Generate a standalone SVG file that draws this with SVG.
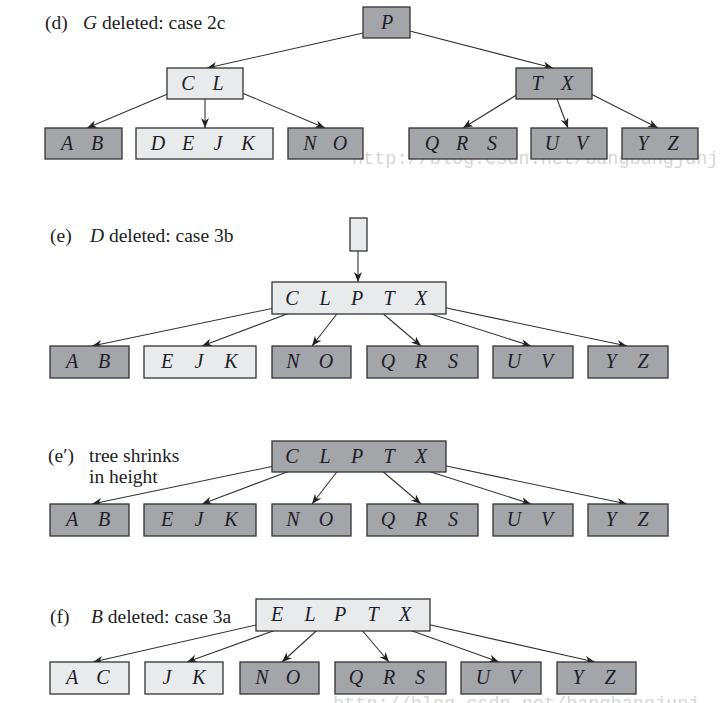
<svg xmlns="http://www.w3.org/2000/svg" width="721" height="703" viewBox="0 0 721 703">
<style>
.dk{fill:#a3a5a8;stroke:#333;stroke-width:1.3}
.lt{fill:#e9eaeb;stroke:#333;stroke-width:1.3}
.k{font-family:"Liberation Serif","Times New Roman","DejaVu Serif",serif;font-style:italic;font-size:20px;fill:#1e1e2a;text-anchor:middle}
.t{font-family:"Liberation Serif","Times New Roman","DejaVu Serif",serif;font-size:19.5px;fill:#222}
.it{font-style:italic}
.e{stroke:#333;stroke-width:1.1;fill:none;marker-end:url(#ah)}
.wm{font-family:"Liberation Mono","DejaVu Sans Mono",monospace;font-size:18.5px;fill:#d6d6d6}
</style>
<defs>
<marker id="ah" markerUnits="userSpaceOnUse" markerWidth="12" markerHeight="10" refX="10" refY="4" orient="auto">
<path d="M0,0 L10,4 L0,8 L3,4 Z" fill="#222"/>
</marker>
</defs>
<text class="wm" x="352" y="164">http://blog.csdn.net/bangbangjunj</text>
<text class="wm" x="333" y="709">http://blog.csdn.net/bangbangjunj</text>
<g id="titles">
<text class="t" x="45" y="29">(d)<tspan x="83" class="it">G</tspan> deleted: case 2c</text>
<text class="t" x="50" y="242">(e)<tspan x="90" class="it">D</tspan> deleted: case 3b</text>
<text class="t" x="48" y="462">(e′)<tspan x="89">tree shrinks</tspan></text>
<text class="t" x="89" y="483">in height</text>
<text class="t" x="50" y="623">(f)<tspan x="91" class="it">B</tspan> deleted: case 3a</text>
</g>
<g id="connectors">
<line class="e" x1="372" y1="31" x2="207" y2="68"/>
<line class="e" x1="402" y1="29" x2="553" y2="68"/>
<line class="e" x1="170" y1="93" x2="87" y2="128"/>
<line class="e" x1="205" y1="91" x2="205" y2="128"/>
<line class="e" x1="235" y1="90" x2="325" y2="128"/>
<line class="e" x1="523" y1="91" x2="463" y2="128"/>
<line class="e" x1="554" y1="91" x2="568" y2="128"/>
<line class="e" x1="585" y1="91" x2="658" y2="128"/>
<line class="e" x1="358" y1="238" x2="358" y2="282"/>
<line class="e" x1="279" y1="307" x2="92" y2="346"/>
<line class="e" x1="311" y1="305" x2="202" y2="346"/>
<line class="e" x1="343" y1="306" x2="312" y2="346"/>
<line class="e" x1="374" y1="306" x2="421" y2="346"/>
<line class="e" x1="406" y1="306" x2="531" y2="346"/>
<line class="e" x1="437" y1="306" x2="627" y2="346"/>
<line class="e" x1="279" y1="465" x2="92" y2="504"/>
<line class="e" x1="311" y1="463" x2="202" y2="504"/>
<line class="e" x1="343" y1="464" x2="312" y2="504"/>
<line class="e" x1="374" y1="464" x2="421" y2="504"/>
<line class="e" x1="406" y1="464" x2="531" y2="504"/>
<line class="e" x1="437" y1="464" x2="627" y2="504"/>
<line class="e" x1="265" y1="623" x2="93" y2="662"/>
<line class="e" x1="295" y1="623" x2="187" y2="662"/>
<line class="e" x1="325" y1="623" x2="282" y2="662"/>
<line class="e" x1="355" y1="622" x2="389" y2="662"/>
<line class="e" x1="390" y1="623" x2="499" y2="662"/>
<line class="e" x1="422" y1="623" x2="595" y2="662"/>
</g>
<g id="d-P"><rect class="dk" x="363" y="7" width="47" height="31"/><text class="k" x="387" y="29">P</text></g>
<g id="d-CL"><rect class="lt" x="167" y="68" width="76" height="31"/><text class="k"><tspan x="188" y="90">C</tspan><tspan x="218" y="90">L</tspan></text></g>
<g id="d-TX"><rect class="dk" x="516" y="68" width="76" height="31"/><text class="k"><tspan x="537" y="90">T</tspan><tspan x="567" y="90">X</tspan></text></g>
<g id="d-AB"><rect class="dk" x="45" y="128" width="77" height="31"/><text class="k"><tspan x="67" y="150">A</tspan><tspan x="97" y="150">B</tspan></text></g>
<g id="d-DEJK"><rect class="lt" x="136" y="128" width="137" height="31"/><text class="k"><tspan x="158" y="150">D</tspan><tspan x="188" y="150">E</tspan><tspan x="218" y="150">J</tspan><tspan x="248" y="150">K</tspan></text></g>
<g id="d-NO"><rect class="dk" x="288" y="128" width="75" height="31"/><text class="k"><tspan x="310" y="150">N</tspan><tspan x="340" y="150">O</tspan></text></g>
<g id="d-QRS"><rect class="dk" x="409" y="128" width="108" height="31"/><text class="k"><tspan x="432" y="150">Q</tspan><tspan x="462" y="150">R</tspan><tspan x="492" y="150">S</tspan></text></g>
<g id="d-UV"><rect class="dk" x="531" y="128" width="76" height="31"/><text class="k"><tspan x="552" y="150">U</tspan><tspan x="582" y="150">V</tspan></text></g>
<g id="d-YZ"><rect class="dk" x="622" y="128" width="76" height="31"/><text class="k"><tspan x="643" y="150">Y</tspan><tspan x="673" y="150">Z</tspan></text></g>
<g id="e-root"><rect class="lt" x="350" y="218" width="17" height="33"/></g>
<g id="e-CLPTX"><rect class="lt" x="272" y="282" width="174" height="32"/><text class="k"><tspan x="292" y="305">C</tspan><tspan x="325" y="305">L</tspan><tspan x="357" y="305">P</tspan><tspan x="389" y="305">T</tspan><tspan x="421" y="305">X</tspan></text></g>
<g id="e-AB"><rect class="dk" x="50" y="346" width="79" height="32"/><text class="k"><tspan x="72" y="368">A</tspan><tspan x="104" y="368">B</tspan></text></g>
<g id="e-EJK"><rect class="lt" x="144" y="346" width="112" height="32"/><text class="k"><tspan x="167" y="368">E</tspan><tspan x="199" y="368">J</tspan><tspan x="231" y="368">K</tspan></text></g>
<g id="e-NO"><rect class="dk" x="272" y="346" width="79" height="32"/><text class="k"><tspan x="293" y="368">N</tspan><tspan x="326" y="368">O</tspan></text></g>
<g id="e-QRS"><rect class="dk" x="367" y="346" width="111" height="32"/><text class="k"><tspan x="388" y="368">Q</tspan><tspan x="421" y="368">R</tspan><tspan x="453" y="368">S</tspan></text></g>
<g id="e-UV"><rect class="dk" x="493" y="346" width="80" height="32"/><text class="k"><tspan x="514" y="368">U</tspan><tspan x="547" y="368">V</tspan></text></g>
<g id="e-YZ"><rect class="dk" x="588" y="346" width="80" height="32"/><text class="k"><tspan x="611" y="368">Y</tspan><tspan x="643" y="368">Z</tspan></text></g>
<g id="e2-CLPTX"><rect class="dk" x="272" y="441" width="174" height="31"/><text class="k"><tspan x="292" y="463">C</tspan><tspan x="325" y="463">L</tspan><tspan x="357" y="463">P</tspan><tspan x="389" y="463">T</tspan><tspan x="421" y="463">X</tspan></text></g>
<g id="e2-AB"><rect class="dk" x="50" y="504" width="79" height="32"/><text class="k"><tspan x="72" y="526">A</tspan><tspan x="104" y="526">B</tspan></text></g>
<g id="e2-EJK"><rect class="dk" x="144" y="504" width="112" height="32"/><text class="k"><tspan x="167" y="526">E</tspan><tspan x="199" y="526">J</tspan><tspan x="231" y="526">K</tspan></text></g>
<g id="e2-NO"><rect class="dk" x="272" y="504" width="79" height="32"/><text class="k"><tspan x="293" y="526">N</tspan><tspan x="326" y="526">O</tspan></text></g>
<g id="e2-QRS"><rect class="dk" x="367" y="504" width="111" height="32"/><text class="k"><tspan x="388" y="526">Q</tspan><tspan x="421" y="526">R</tspan><tspan x="453" y="526">S</tspan></text></g>
<g id="e2-UV"><rect class="dk" x="493" y="504" width="80" height="32"/><text class="k"><tspan x="514" y="526">U</tspan><tspan x="547" y="526">V</tspan></text></g>
<g id="e2-YZ"><rect class="dk" x="588" y="504" width="80" height="32"/><text class="k"><tspan x="611" y="526">Y</tspan><tspan x="643" y="526">Z</tspan></text></g>
<g id="f-ELPTX"><rect class="lt" x="256" y="599" width="174" height="32"/><text class="k"><tspan x="277" y="621">E</tspan><tspan x="310" y="621">L</tspan><tspan x="340" y="621">P</tspan><tspan x="373" y="621">T</tspan><tspan x="405" y="621">X</tspan></text></g>
<g id="f-AC"><rect class="lt" x="50" y="662" width="79" height="32"/><text class="k"><tspan x="72" y="684">A</tspan><tspan x="103" y="684">C</tspan></text></g>
<g id="f-JK"><rect class="lt" x="145" y="662" width="78" height="32"/><text class="k"><tspan x="167" y="684">J</tspan><tspan x="199" y="684">K</tspan></text></g>
<g id="f-NO"><rect class="dk" x="240" y="662" width="79" height="32"/><text class="k"><tspan x="262" y="684">N</tspan><tspan x="293" y="684">O</tspan></text></g>
<g id="f-QRS"><rect class="dk" x="335" y="662" width="111" height="32"/><text class="k"><tspan x="356" y="684">Q</tspan><tspan x="389" y="684">R</tspan><tspan x="420" y="684">S</tspan></text></g>
<g id="f-UV"><rect class="dk" x="461" y="662" width="80" height="32"/><text class="k"><tspan x="483" y="684">U</tspan><tspan x="515" y="684">V</tspan></text></g>
<g id="f-YZ"><rect class="dk" x="557" y="662" width="79" height="32"/><text class="k"><tspan x="578" y="684">Y</tspan><tspan x="610" y="684">Z</tspan></text></g>
</svg>
